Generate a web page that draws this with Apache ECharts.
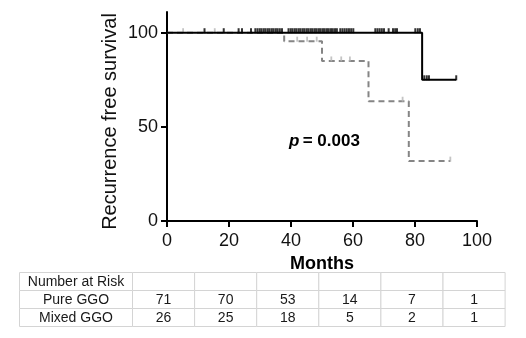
<!DOCTYPE html>
<html>
<head>
<meta charset="utf-8">
<script src="https://cdn.jsdelivr.net/npm/echarts@6/dist/echarts.min.js"></script>
<style>
html,body{margin:0;padding:0;background:#fff;}
#chart{width:526px;height:338px;}
</style>
</head>
<body>
<div id="chart"></div>
<script>
// ---- Data ----
var xTicks = [0, 20, 40, 60, 80, 100];
var yTicks = [0, 50, 100];
var yTitle = 'Recurrence free survival';
var xTitle = 'Months';

// Pure GGO Kaplan-Meier steps [month, survival%]
var pureSteps = [[0, 100], [82.3, 75], [93.3, 75]];
// Pure GGO censored times at 100%
var pureCensor100 = [12.1, 18.3, 23.1, 24.2, 27.1, 28.5, 29.2, 29.9, 30.5, 31.2, 31.8, 32.5, 33.1, 33.8, 34.4, 35.1, 35.7, 36.4, 37.1,
  39.2, 39.9, 40.5, 41.2, 41.8, 42.5, 43.1, 43.8, 44.4, 45.1, 45.7, 46.4, 47.0, 47.7, 48.3, 49.0, 49.6, 50.3, 50.9, 51.6, 52.2, 52.9, 53.5, 54.2, 54.8,
  55.9, 56.6, 57.3, 58.0, 58.7, 59.4, 60.1,
  67.2, 67.9, 68.6, 69.3, 70.0, 71.5, 72.9, 73.6, 74.2, 80.1, 80.9, 81.6];
// Pure GGO censored times at 75%
var pureCensor75 = [83.0, 83.8, 84.5, 93.3];

// Mixed GGO Kaplan-Meier steps
var mixedSteps = [[0, 100], [37.8, 95.5], [50, 85], [65, 63.6], [78, 31.8], [91.4, 31.8]];
// Mixed GGO censored [month, survival%]
var mixedCensor = [[5.2, 100], [15.4, 100], [42.0, 95.5], [45.2, 95.5], [48.3, 95.5],
  [53.0, 85], [56.2, 85], [59.0, 85], [76.0, 63.6], [91.4, 31.8]];

// Number at risk table
var riskHeader = 'Number at Risk';
var riskGroups = ['Pure GGO', 'Mixed GGO'];
var pureAtRisk = [71, 70, 53, 14, 7, 1];
var mixedAtRisk = [26, 25, 18, 5, 2, 1];

var pValueText = '0.003';

// ---- Chart ----
var FONT = 'Liberation Sans, Arial, sans-serif';
var chart = echarts.init(document.getElementById('chart'), null, {renderer: 'canvas'});

function censorPts(times, y) { return times.map(function (t) { return [t, y]; }); }

// Build table graphics
var tblLeft = 19.5, firstColW = 113, colW = 62.1, rowH = 18, tblTop = 272.5;
var graphics = [];
var rows = [[riskHeader, '', '', '', '', '', ''],
  [riskGroups[0]].concat(pureAtRisk.map(String)),
  [riskGroups[1]].concat(mixedAtRisk.map(String))];
rows.forEach(function (row, r) {
  row.forEach(function (txt, c) {
    var x = c === 0 ? tblLeft : tblLeft + firstColW + (c - 1) * colW;
    var w = c === 0 ? firstColW : colW;
    var y = tblTop + r * rowH;
    graphics.push({
      type: 'rect', shape: {x: x, y: y, width: w, height: rowH},
      style: {fill: '#fff', stroke: '#d4d4d4', lineWidth: 1}, silent: true
    });
    if (txt) {
      graphics.push({
        type: 'text', x: x + w / 2, y: y + rowH / 2 + 0.5,
        style: {text: txt, fill: '#1a1a1a', font: '14px ' + FONT, textAlign: 'center', textVerticalAlign: 'middle'},
        silent: true
      });
    }
  });
});
graphics.push({
  type: 'text', x: 289, y: 141,
  style: {
    text: '{i|p} {b|= ' + pValueText + '}',
    textVerticalAlign: 'middle',
    rich: {
      i: {font: 'italic bold 17px ' + FONT, fill: '#000'},
      b: {font: 'bold 17px ' + FONT, fill: '#000'}
    }
  }, silent: true
});
graphics.push({
  type: 'text', x: 110, y: 121.5, rotation: Math.PI / 2,
  style: {text: yTitle, font: '20px ' + FONT, fill: '#111', textAlign: 'center', textVerticalAlign: 'middle'},
  silent: true
});

var option = {
  animation: false,
  backgroundColor: '#fff',
  grid: {left: 167, right: 49, top: 12, bottom: 117, containLabel: false},
  xAxis: {
    type: 'value', min: 0, max: 100, interval: 20,
    name: xTitle, nameLocation: 'middle', nameGap: 31,
    nameTextStyle: {fontFamily: FONT, fontSize: 18, fontWeight: 'bold', color: '#000'},
    axisLine: {show: true, lineStyle: {color: '#000', width: 2}},
    axisTick: {show: true, length: 6, lineStyle: {color: '#000', width: 2}},
    axisLabel: {fontFamily: FONT, fontSize: 18, color: '#111', margin: 11},
    splitLine: {show: false}
  },
  yAxis: {
    type: 'value', min: 0, max: 111,
    axisLine: {show: true, lineStyle: {color: '#000', width: 2}},
    axisTick: {show: true, length: 6, lineStyle: {color: '#000', width: 2}, customValues: yTicks},
    axisLabel: {fontFamily: FONT, fontSize: 18, color: '#111', margin: 9, customValues: yTicks},
    splitLine: {show: false}
  },
  series: [
    {
      type: 'line', step: 'end', data: mixedSteps, showSymbol: false, symbol: 'none',
      lineStyle: {color: '#858585', width: 2, type: [6, 4]}, z: 2
    },
    {
      type: 'scatter', data: mixedCensor, symbol: 'rect', symbolSize: [1.8, 5], symbolOffset: [0, -2],
      itemStyle: {color: '#b5b5b5'}, z: 3
    },
    {
      type: 'line', step: 'end', data: pureSteps, showSymbol: false, symbol: 'none',
      lineStyle: {color: '#000', width: 2}, z: 4
    },
    {
      type: 'scatter', data: censorPts(pureCensor100, 100).concat(censorPts(pureCensor75, 75)),
      symbol: 'rect', symbolSize: [2, 5], symbolOffset: [0, -2],
      itemStyle: {color: '#000'}, z: 5
    }
  ],
  graphic: graphics
};
chart.setOption(option);
</script>
</body>
</html>
